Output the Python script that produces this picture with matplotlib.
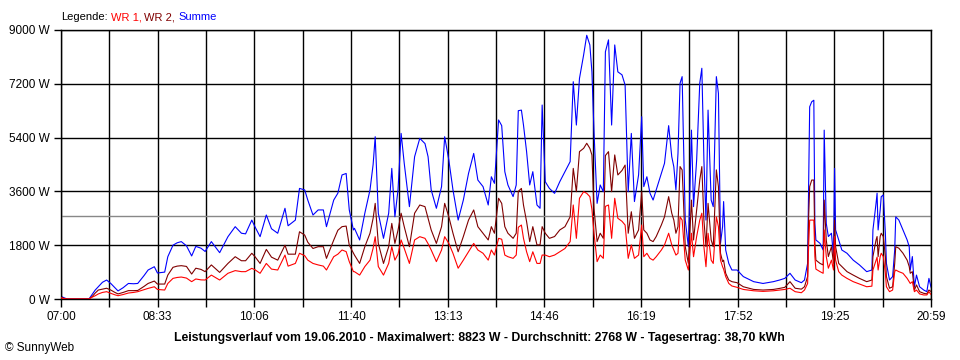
import numpy as np
import matplotlib
matplotlib.use("Agg")
import matplotlib.pyplot as plt

# Minuten seit 07:00 und Leistung in W
minuten = [0, 3, 6, 27, 30, 33, 36, 40, 44, 48, 52, 55, 60, 65, 70, 74, 80, 84, 90, 93,
           100, 103, 108, 112, 116, 121, 126, 130, 135,
           139, 145, 153, 161, 168, 174, 178, 184, 187, 192, 198, 203, 209, 216, 219, 226,
           230, 235, 238, 243, 248, 253, 256, 263, 267, 271, 275, 278, 282,
           283, 288, 293, 298, 301, 303, 306, 311, 316, 319, 322, 325, 328, 331, 336, 341,
           346, 351, 354, 357, 362, 367, 370, 374, 378, 383, 388, 393, 398, 402, 407, 412,
           415, 418,
           422, 425, 428, 431, 436, 439, 441, 444, 446, 449, 452, 455, 459, 462, 464, 467,
           471, 476, 481, 486, 491, 494, 497, 500, 504, 507, 510, 512, 514, 517, 520, 523,
           525, 528, 531, 534, 537, 541, 544, 547, 550, 553, 557,
           560, 562, 565, 568, 571, 574, 579, 582, 586, 589, 591, 593, 595, 597, 599, 600,
           602, 605, 608, 610, 613, 616, 618, 620, 622, 624, 627, 629, 632, 634, 636, 638,
           639, 641, 644, 647, 652, 658, 668, 677, 687, 693, 698,
           703, 708, 714, 717, 720, 721, 722, 724, 726, 727, 728, 732, 735, 736, 738, 740,
           743, 745, 746, 747, 750, 753, 758, 764, 770, 777, 782, 783, 786, 787, 788, 790,
           791, 793, 795, 796, 799, 802, 804, 805, 808, 812, 816, 818, 819, 821, 823, 825,
           828, 832, 835, 837, 839]

summe = [90, 40, 0, 0, 150, 300, 410, 560, 635, 520, 380, 270, 380, 520, 510, 520, 780, 970, 1080, 870,
         900, 1415, 1800, 1880, 1920, 1780, 1440, 1760, 1700,
         1590, 1920, 1550, 2085, 2420, 2200, 2180, 2640, 2420, 2085, 2810, 2350, 2200, 3035, 2450, 2640,
         3700, 3650, 3310, 2810, 2980, 2980, 2420, 3310, 3540, 4150, 4200, 2980, 2310,
         2365, 1975, 2870, 3650, 4500, 5430, 2870, 2030, 2870, 4370, 2750, 3650, 5540, 4540, 3090, 4760,
         5375, 5200, 4760, 3650, 3035, 3760, 5430, 4650, 3650, 2640, 3310, 4200, 4870, 3980, 3760, 3145,
         4090, 3870,
         5990, 5800, 4260, 3815, 3425, 3815, 6300, 6320, 5820, 4930, 3815, 4260, 3145, 3035, 6490, 3925,
         3700, 3535, 3925, 4260, 4595, 7270, 5820, 7380, 8165, 8823, 8500, 7600, 5600, 3200, 3815, 3590,
         8270, 8670, 5820, 8500, 7600, 7500, 7160, 3590, 5540, 3260, 4150,
         6100, 3760, 4090, 3540, 3310, 3650, 4200, 4540, 5800, 4760, 4420, 3650, 4870, 7220, 7440, 5770,
         2640, 1750, 5650, 3090, 4650, 7220, 7720, 4650, 2640, 6320, 3310, 3090, 7440, 6880, 1860, 2420,
         3260, 1640, 1190, 970, 970, 750, 580, 520, 580, 635, 690,
         860, 635, 545, 635, 1190, 3870, 6430, 6600, 6650, 2530, 1975, 1860, 1640, 5650, 2530, 2090,
         2200, 1420, 4370, 2310, 1975, 1640, 1530, 1300, 1140, 915, 970, 2310, 3200, 3540, 2310, 2980,
         3425, 3480, 2200, 1190, 635, 750, 1640, 2750, 2640, 2310, 1975, 1750, 970, 1420, 410, 800,
         410, 300, 245, 690, 400]

wr2 = [50, 20, 0, 0, 80, 200, 300, 330, 360, 300, 220, 170, 220, 280, 280, 285, 420, 520, 600, 500,
       500, 800, 1060, 1100, 1115, 1090, 835, 1030, 990,
       915, 1140, 890, 1190, 1415, 1280, 1280, 1530, 1420, 1190, 1660, 1400, 1300, 1800, 1500, 1500,
       2250, 2140, 1900, 1690, 1750, 1750, 1360, 1970, 2300, 2420, 2440, 1800, 1530,
       1470, 1190, 1750, 2200, 2700, 3200, 1860, 1190, 1750, 2530, 1860, 2300, 2870, 2420, 1750, 2870,
       3145, 3090, 2700, 2310, 1860, 2420, 3200, 2750, 2200, 1580, 2090, 2640, 2980, 2420, 2200, 1975,
       2420, 2200,
       3370, 3200, 2420, 2200, 2030, 2200, 3600, 3700, 3145, 2590, 1920, 2420, 1810, 1810, 2420, 2200,
       2030, 2090, 2310, 2420, 2750, 4370, 3590, 4930, 5040, 5210, 5040, 4820, 3035, 1920, 2200, 2030,
       4800, 4930, 3590, 4820, 4150, 4300, 4480, 2200, 2920, 2030, 2310,
       3590, 2310, 2200, 1975, 1920, 2090, 2480, 2750, 3425, 2870, 2640, 2200, 2420, 4430, 4320, 3540,
       1750, 1190, 3310, 1975, 2980, 3980, 4430, 2640, 1750, 3200, 1975, 1750, 4320, 3760, 1530, 1250,
       1300, 860, 635, 580, 545, 410, 320, 300, 320, 355, 390,
       580, 360, 330, 410, 750, 2750, 3760, 3980, 3980, 1860, 1300, 1190, 1140, 3310, 1975, 1420,
       1750, 1190, 2640, 1750, 1190, 1085, 915, 800, 690, 580, 635, 1420, 1975, 2090, 1420, 2090,
       2200, 2090, 1420, 750, 360, 410, 1190, 1750, 1700, 1530, 1300, 1085, 860, 915, 300, 470,
       245, 190, 170, 300, 250]

wr1 = [40, 10, 0, 0, 60, 110, 170, 220, 245, 190, 140, 110, 150, 200, 220, 245, 310, 355, 410, 320,
       300, 520, 690, 720, 735, 700, 580, 670, 640,
       635, 800, 635, 860, 950, 915, 915, 1025, 980, 860, 1190, 1000, 970, 1470, 1100, 1190,
       1530, 1450, 1300, 1190, 1140, 1100, 970, 1415, 1500, 1640, 1585, 1250, 915,
       915, 800, 1085, 1300, 1700, 2085, 1085, 800, 1190, 1750, 1300, 1500, 1975, 1695, 1190, 1975,
       2085, 2030, 1850, 1640, 1250, 1640, 2085, 1860, 1530, 1030, 1300, 1580, 1860, 1640, 1530, 1300,
       1640, 1470,
       2030, 2000, 1470, 1415, 1360, 1470, 2400, 2475, 2030, 1580, 1250, 1580, 1190, 1190, 1470, 1470,
       1415, 1470, 1580, 1690, 1920, 3145, 2030, 3370, 3590, 3535, 3425, 3000, 2200, 1250, 1470, 1360,
       3100, 3145, 2030, 3370, 2700, 2600, 2475, 1360, 1810, 1360, 1470,
       2475, 1415, 1530, 1360, 1300, 1415, 1640, 1810, 2200, 1810, 1640, 1470, 1530, 2750, 2640, 2200,
       1300, 970, 2200, 1415, 2090, 2640, 2870, 1750, 1080, 2200, 1300, 1190, 2750, 2420, 1300, 1080,
       1000, 750, 520, 435, 390, 320, 275, 255, 275, 300, 320,
       360, 245, 210, 300, 520, 1800, 2640, 2640, 2640, 1420, 1000, 915, 860, 2310, 1420, 1030,
       1300, 970, 2090, 1300, 915, 800, 690, 580, 500, 410, 430, 970, 1300, 1400, 970, 1420,
       1530, 1420, 860, 410, 245, 300, 915, 970, 915, 860, 690, 580, 520, 580, 245, 300,
       170, 135, 135, 245, 150]

durchschnitt = 2768
x_beschriftung = ['07:00', '08:33', '10:06', '11:40', '13:13', '14:46', '16:19', '17:52', '19:25', '20:59']
y_werte = [0, 1800, 3600, 5400, 7200, 9000]

plt.rcParams['font.family'] = ['Liberation Sans', 'DejaVu Sans']

fig = plt.figure(figsize=(9.6, 3.6), dpi=100)
ax = fig.add_axes([61/960, 61/360, 870/960, 269/360])

# Raster: 18 Abschnitte auf der Zeitachse
raster = np.linspace(0, 839, 19)
for g in raster:
    ax.axvline(g, color='black', lw=1.0, zorder=1)
for w in y_werte:
    ax.axhline(w, color='black', lw=1.0, zorder=1)

ax.axhline(durchschnitt, color='#888888', lw=1.0, zorder=1.5)

ax.plot(minuten, summe, c='#0000FF', lw=0.8, zorder=2)
ax.plot(minuten, wr2, c='#800000', lw=0.8, zorder=3)
ax.plot(minuten, wr1, c='#FF0000', lw=0.8, zorder=4)

ax.set_xlim(0, 839)
ax.set_ylim(0, 9000)
ax.set_xticks(raster)
etiketten = []
for i in range(19):
    etiketten.append(x_beschriftung[i // 2] if i % 2 == 0 else '')
ax.set_xticklabels(etiketten)
ax.set_yticks(y_werte)
ax.set_yticklabels([f'{w} W' for w in y_werte])
ax.tick_params(axis='x', length=6, width=1, pad=3, labelsize=8.5)
ax.tick_params(axis='y', length=5, width=1, pad=3, labelsize=8.5)
for s in ax.spines.values():
    s.set_linewidth(1.0)

# Legende oben links, farbig
renderer = fig.canvas.get_renderer()
xpos = 61
for txt, farbe in [('Legende:', 'black'), ('WR 1,', '#FF0000'), ('WR 2,', '#800000'), ('Summe', '#0000FF')]:
    t = fig.text(xpos/960, 1 - 17/360, txt, color=farbe, fontsize=8, va='center', ha='left')
    bb = t.get_window_extent(renderer)
    xpos = bb.x1 + 3

fig.text(479/960, 1 - 338/360,
         'Leistungsverlauf vom 19.06.2010 - Maximalwert: 8823 W - Durchschnitt: 2768 W - Tagesertrag: 38,70 kWh',
         fontsize=8.8, fontweight='bold', ha='center', va='center')
fig.text(5/960, 1 - 348/360, '© SunnyWeb', fontsize=8.5, ha='left', va='center')

fig.savefig('out.png', dpi=100)
